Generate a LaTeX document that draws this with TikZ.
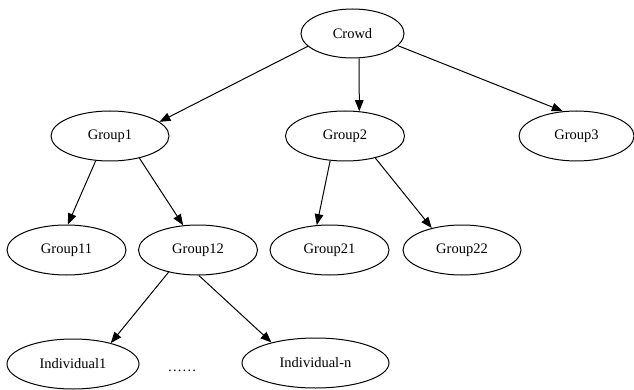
\documentclass[tikz,border=0pt]{standalone}
\usepackage{fontspec}
\setmainfont{Liberation Serif}
\usetikzlibrary{shapes.geometric,arrows.meta}
\begin{document}
\begin{tikzpicture}[x=1pt,y=-1pt,
  nd/.style={ellipse,draw,line width=1pt,inner sep=0pt,minimum height=50pt,
    font=\fontsize{14.5}{17}\selectfont},
  arr/.style={line width=1pt,-{Triangle[length=11pt,width=8.5pt]}}]
\useasboundingbox (0,0) rectangle (634,390);
\node[nd,minimum width=103pt,minimum height=49pt] (crowd) at (352.5,33.5) {Crowd};
\node[nd,minimum width=118pt] (g1) at (110,136) {Group1};
\node[nd,minimum width=119pt] (g2) at (345,136) {Group2};
\node[nd,minimum width=115pt] (g3) at (576.5,136) {Group3};
\node[nd,minimum width=119pt] (g11) at (66.5,250) {Group11};
\node[nd,minimum width=119pt] (g12) at (198,250) {Group12};
\node[nd,minimum width=119pt] (g21) at (329.5,250) {Group21};
\node[nd,minimum width=118pt] (g22) at (462,250) {Group22};
\node[nd,minimum width=132pt] (i1) at (73,364) {Individual1};
\node[nd,minimum width=147pt] (in) at (315.5,363) {Individual-n};
\node[font=\fontsize{14.5}{17}\selectfont] (dots) at (182,371) {……};
\draw[arr] (crowd.196.5) -- (g1.16.6);
\draw[arr] (crowd.-75) -- (g2.60);
\draw[arr] (crowd.-15) -- (g3.119);
\draw[arr] (g1.-120) -- (g11.87);
\draw[arr] (g1.-37) -- (g12.121.8);
\draw[arr] (g2.-121.8) -- (g21.117);
\draw[arr] (g2.-36.9) -- (g22.144.4);
\draw[arr] (g12.-143) -- (i1.29.2);
\draw[arr] (g12.-88) -- (in.155.9);
\end{tikzpicture}
\end{document}
